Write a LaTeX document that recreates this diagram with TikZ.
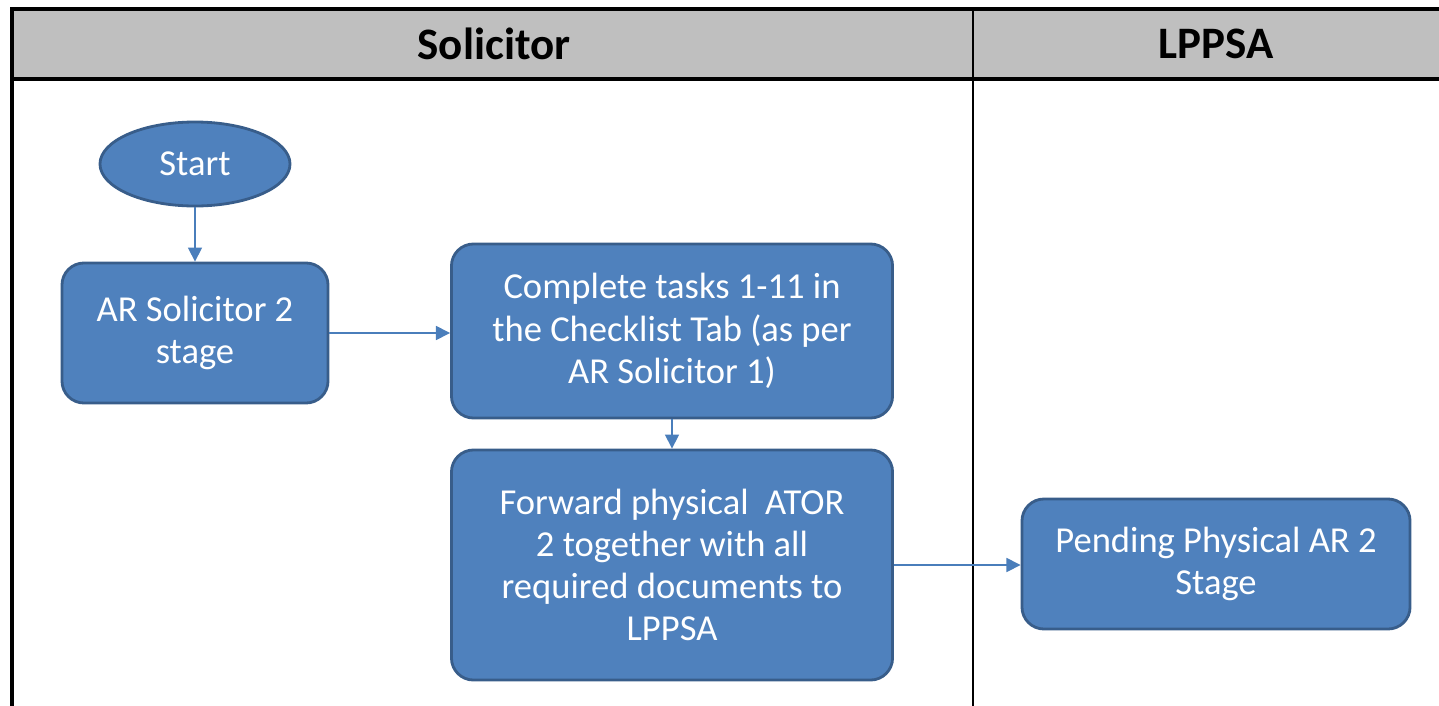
\documentclass[tikz,border=0pt]{standalone}
\usepackage{fontspec}
\setmainfont{Carlito}
\usetikzlibrary{arrows.meta,shapes.geometric}
\definecolor{bx}{HTML}{4F81BD}
\definecolor{bd}{HTML}{385D8A}
\definecolor{ln}{HTML}{4A7EBB}
\definecolor{hd}{HTML}{BFBFBF}
\tikzset{tx/.append style={text=white,align=center,font=\fontsize{26}{30}\selectfont}}
\tikzset{pr/.append style={tx,draw=bd,fill=bx,line width=2pt,rounded corners=0.55cm,inner sep=0}}
\tikzset{st/.append style={tx,draw=bd,fill=bx,line width=2pt,ellipse,inner sep=0}}
\tikzset{ar/.append style={draw=ln,line width=1.1pt,-{Triangle[length=10pt,width=10pt]}}}
\tikzset{hh/.append style={font=\fontsize{32}{36}\selectfont\bfseries}}

\begin{document}
\begin{tikzpicture}[x=0.025cm,y=-0.025cm]
                \useasboundingbox (0,0) rectangle (1439,705);
                % lanes
                \fill[hd] (12,9) rectangle (1470,79);
                \draw[line width=2.2pt] (12,760) -- (12,9) -- (1470,9);
                \draw[line width=2.2pt] (12,79) -- (1470,79);
                \draw[line width=1.3pt] (973,9) -- (973,760);
                \node[hh] (sol) at (494,44) {Solicitor};
                \node[hh] (lpp) at (1216,44) {LPPSA};
                % steps
                \node[st,minimum width=4.75cm,minimum height=2.1cm] (start) at (195,164) {Start};
                \node[pr,minimum width=6.65cm,minimum height=3.5cm] (ars) at (195,333) {AR Solicitor 2\\stage};
                \node[pr,minimum width=11.025cm,minimum height=4.35cm] (cpl) at (672,331) {Complete tasks 1-11 in\\the Checklist Tab (as per\\AR Solicitor 1)};
                \node[pr,minimum width=11.025cm,minimum height=5.75cm] (fwd) at (672,565) {Forward physical\ \ ATOR\\2 together with all\\required documents to\\LPPSA};
                \node[pr,minimum width=9.7cm,minimum height=3.25cm] (pnd) at (1216,564) {Pending Physical AR 2\\Stage};
                \draw[ar] (start) -- (ars);
                \draw[ar] (ars.east) -- (ars.east -| cpl.west);
                \draw[ar] (cpl) -- (fwd);
                \draw[ar] (fwd.east) -- (fwd.east -| pnd.west);
            \end{tikzpicture}
\end{document}
